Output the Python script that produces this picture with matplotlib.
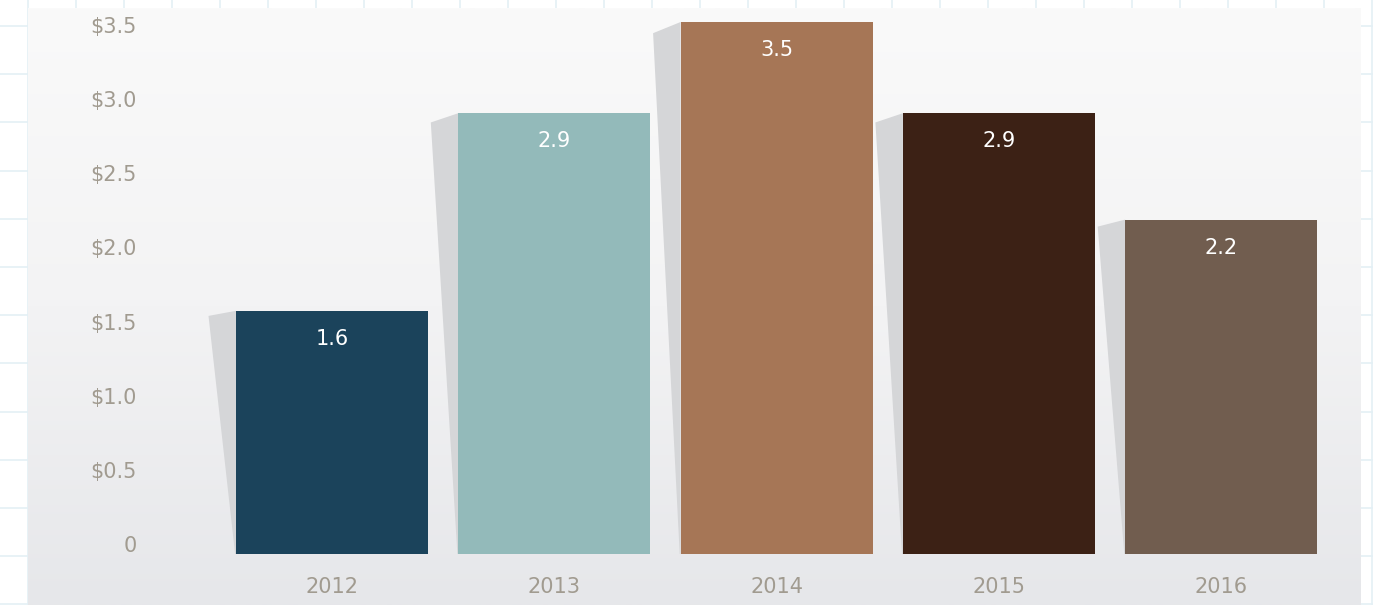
import numpy as np
import matplotlib
matplotlib.use("Agg")
import matplotlib.pyplot as plt
from matplotlib.colors import LinearSegmentedColormap
from matplotlib.patches import Polygon
from matplotlib.transforms import offset_copy

# Data
years = ["2012", "2013", "2014", "2015", "2016"]
values = [1.6, 2.9, 3.5, 2.9, 2.2]
bar_colors = ["#1b435b", "#93baba", "#a67656", "#3c2115", "#715d4f"]
y_ticks = [0, 0.5, 1.0, 1.5, 2.0, 2.5, 3.0, 3.5]
y_tick_labels = ["0", "$0.5", "$1.0", "$1.5", "$2.0", "$2.5", "$3.0", "$3.5"]

W, H = 1373, 605
DPI = 100
label_color = "#a19b90"
font = "DejaVu Sans"

fig = plt.figure(figsize=(W / DPI, H / DPI), dpi=DPI)
fig.patch.set_facecolor("white")

# Graph-paper background across the whole figure
bg = fig.add_axes([0, 0, 1, 1])
bg.set_xlim(0, W)
bg.set_ylim(H, 0)
bg.axis("off")
for x in np.arange(28, W + 1, 48.0):
    bg.axvline(x, color="#e4f0f5", lw=1.2, zorder=0)
for y in np.arange(26, H + 1, 48.2):
    bg.axhline(y, color="#e4f0f5", lw=1.2, zorder=0)

# Chart panel
px_left, px_right, px_top = 28, 1361, 8
ax = fig.add_axes([px_left / W, 0, (px_right - px_left) / W, (H - px_top) / H])
ax.axis("off")

x = np.arange(len(years))
step_px = 222.3      # pixel distance between bar centres
unit_px = 152.0      # pixels per dollar
x0_px, y0_px = 332, 554
xlim = ((px_left - x0_px) / step_px, (px_right - x0_px) / step_px)
ylim = (-(H - y0_px) / unit_px, (y0_px - px_top) / unit_px)
ax.set_xlim(*xlim)
ax.set_ylim(*ylim)

# Soft vertical gradient for the panel
grad = LinearSegmentedColormap.from_list("panel", ["#e6e7ea", "#f3f3f4", "#fafafa"])
ax.imshow(np.linspace(0, 1, 256).reshape(-1, 1), extent=(*xlim, *ylim),
          origin="lower", aspect="auto", cmap=grad, zorder=0)

bar_w = 192 / step_px
bars = ax.bar(x, values, width=bar_w, color=bar_colors, zorder=3)

# Slanted shadow on the left side of each bar
shadow_dx = 27.5 / step_px
for rect, v in zip(bars, values):
    xl = rect.get_x()
    top = rect.get_height()
    pts = [(xl - shadow_dx, top - 0.021 * top), (xl, top), (xl, 0), (xl - 0.004, 0)]
    ax.add_patch(Polygon(pts, closed=True, facecolor="#d5d6d8", edgecolor="none", zorder=2))

# Value labels inside the bars
val_tr = offset_copy(ax.transData, fig=fig, x=0, y=-28, units="dots")
for rect, v in zip(bars, values):
    ax.text(rect.get_x() + rect.get_width() / 2, rect.get_height(), f"{v:.1f}",
            transform=val_tr, ha="center", va="center", color="white",
            fontsize=15, family=font, zorder=4)

# Y-axis label scale (slightly tighter than the bar scale)
lab_ax = ax.twinx()
lab_ax.axis("off")
lab_unit_px, lab_y0_px = 148.3, 546
lab_ax.set_ylim(-(H - lab_y0_px) / lab_unit_px, (lab_y0_px - px_top) / lab_unit_px)
ylab_x = (137 - x0_px) / step_px
for v, lab in zip(y_ticks, y_tick_labels):
    lab_ax.text(ylab_x, v, lab, ha="right", va="center",
                color=label_color, fontsize=15, family=font, zorder=4)

# Year labels
for xi, yr in zip(x, years):
    ax.text(xi, -(587 - y0_px) / unit_px, yr, ha="center", va="center",
            color=label_color, fontsize=15, family=font, zorder=4)

fig.savefig("out.png", dpi=DPI)
